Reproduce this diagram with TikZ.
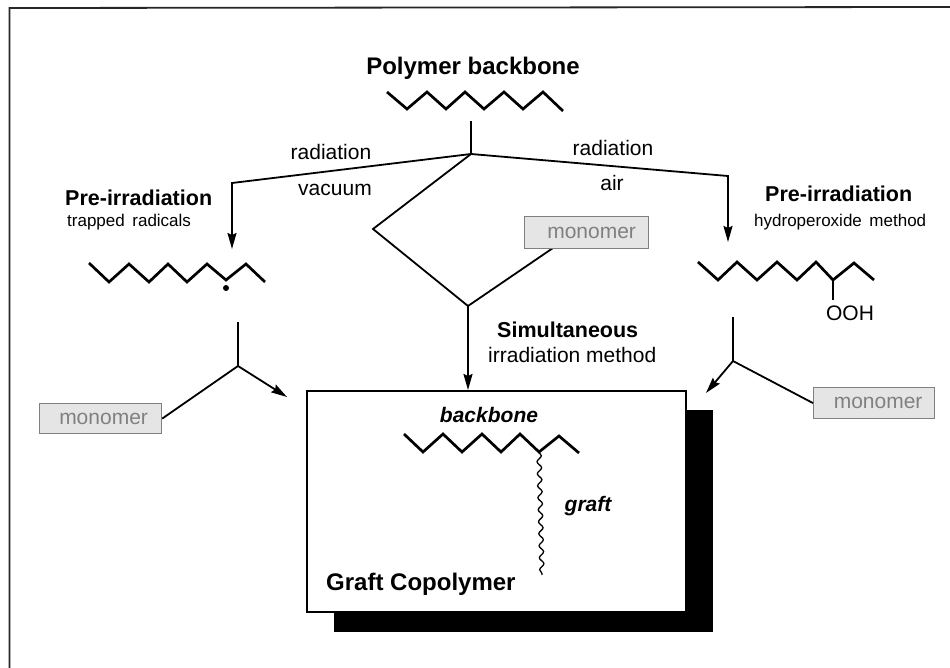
\documentclass[tikz,border=0pt]{standalone}
\usepackage{fontspec}
\setmainfont{Liberation Sans}
\usetikzlibrary{arrows.meta,decorations.pathmorphing}
\tikzset{
  chain/.style={line width=2.7pt,line join=miter},
  conn/.style={line width=1.8pt},
  arr/.style={line width=1.8pt,-{Stealth[length=16pt,width=9pt,inset=2pt]}},
  mono/.style={draw=black!50,fill=black!10,line width=1.2pt,text=black!50,font=\fontsize{21}{24}\selectfont,inner sep=0pt},
  lab/.style={font=\fontsize{21}{24}\selectfont,inner sep=0pt},
  small/.style={font=\fontsize{17}{20}\selectfont,inner sep=0pt},
  head/.style={font=\bfseries\fontsize{21.5}{25}\selectfont,inner sep=0pt},
  bighead/.style={font=\bfseries\fontsize{24}{28}\selectfont,inner sep=0pt},
  ital/.style={font=\bfseries\itshape\fontsize{21}{24}\selectfont,inner sep=0pt},
}
\begin{document}
\begin{tikzpicture}[x=1pt,y=-1pt]
\useasboundingbox (0,0) rectangle (950,668);
\fill[white] (0,0) rectangle (950,668);
\coordinate (fa) at (9.5,668);
\coordinate (fb) at (9.5,8);
\coordinate (fc) at (950,7);
\draw[line width=1.8pt,black!85] (fa)--(fb)--(fc);
% result box
\fill[black] (334,410) rectangle (713,632);
\node[draw,fill=white,line width=1.6pt,minimum width=379pt,minimum height=221pt,anchor=north west,inner sep=0pt] (box) at (306,390) {};
% top chain
\draw[chain] (387,92)--(407,109)--(427,92)--(446,109)--(465,92)--(484,109)--(504,92)--(523,109)--(543,92)--(563,111);
\node[bighead] (title) at (473,68) {Polymer backbone};
% hub
\coordinate (stemtop) at (471,121);
\coordinate (hub) at (471,154);
\coordinate (lc) at (232,183);
\coordinate (lend) at (232,249);
\coordinate (rc) at (728,176);
\coordinate (rend) at (728,242);
\coordinate (dl) at (373,229);
\coordinate (db) at (468,306);
\coordinate (boxtop) at (468,390);
\coordinate (m1foot) at (553,248);
\draw[conn] (stemtop)--(hub);
\draw[arr] (hub)--(lc)--(lend);
\draw[arr] (hub)--(rc)--(rend);
\draw[conn,line join=miter] (hub)--(dl)--(db)--(m1foot);
\node[mono,minimum width=124pt,minimum height=32pt,anchor=north west] (m1) at (524,216) {\hspace*{10pt}monomer};
\draw[arr] (db)--(boxtop);
\node[lab] (r1) at (331,152) {radiation};
\node[lab] (r2) at (613,148) {radiation};
\node[lab] (vac) at (335,190) {vacuum};
\node[lab] (air) at (612,183) {air};
% left
\node[head,anchor=west] (pl) at (65,198) {Pre-irradiation};
\node[small,anchor=west] (pls) at (67,222) {trapped\, radicals};
\draw[chain] (89,263)--(109,282)--(129,264)--(149,282)--(168,264)--(187,282)--(207,264)--(226,280)--(246,264)--(265,282);
\fill (226,288) circle (3pt);
\coordinate (ly0) at (238,322);
\coordinate (ly) at (238,366);
\coordinate (lyend) at (287,397);
\node[mono,minimum width=122pt,minimum height=30pt,anchor=north west] (m2) at (39,403) {\hspace*{6pt}monomer};
\draw[conn] (ly0)--(ly)--(m2.east);
\draw[arr] (ly)--(lyend);
% right
\node[head,anchor=west] (pr) at (765,194) {Pre-irradiation};
\node[small,anchor=west] (prs) at (754,222) {hydroperoxide\, method};
\draw[chain] (698,262)--(718,280)--(737,262)--(757,280)--(777,262)--(797,280)--(816,262)--(833,280)--(854,263)--(874,280);
\node[lab] (ooh) at (850,313) {OOH};
\draw[conn] (833,280)--(833,300);
\coordinate (ry0) at (733,317);
\coordinate (ry) at (733,361);
\coordinate (ryend) at (706,393);
\node[mono,minimum width=121pt,minimum height=31pt,anchor=north west] (m3) at (813,387) {\hspace*{8pt}monomer};
\draw[conn] (ry0)--(ry)--(m3.west);
\draw[arr] (ry)--(ryend);
% centre
\node[head,anchor=west] (sim) at (497,330) {Simultaneous};
\node[lab,anchor=west] (irr) at (488,355) {irradiation method};
% product
\node[ital] (bb) at (489,415) {backbone};
\draw[chain] (404,434)--(423,452)--(443,434)--(462,452)--(482,434)--(501,452)--(520,434)--(539,452)--(559,436)--(579,453);
\draw[line width=1.3pt,decorate,decoration={snake,amplitude=2.2pt,segment length=12pt}] (539,452)--(542,575);
\node[ital] (gr) at (588,506) {graft};
\node[bighead,anchor=west] (gc) at (326,584) {Graft Copolymer};
\end{tikzpicture}
\end{document}
